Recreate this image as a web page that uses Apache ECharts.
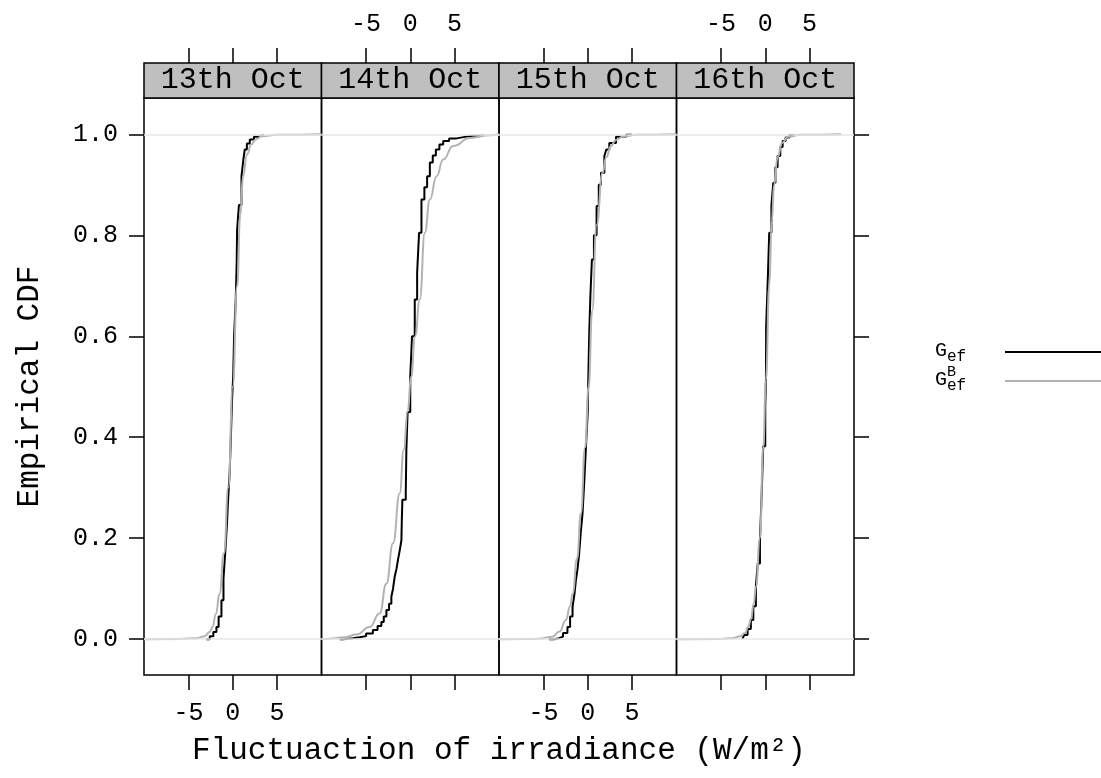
<!DOCTYPE html>
<html>
<head>
<meta charset="utf-8">
<script src="https://cdn.jsdelivr.net/npm/echarts@6/dist/echarts.min.js"></script>
<style>html,body{margin:0;padding:0;background:#fff}#chart{width:1101px;height:778px}</style>
</head>
<body>
<div id="chart"></div>
<script>
// ---------------- data ----------------
const panelLabels = ['13th Oct', '14th Oct', '15th Oct', '16th Oct'];
const xTicks = [-5, 0, 5];
const yTicks = [0, 0.2, 0.4, 0.6, 0.8, 1.0];
const xRange = [-10.05, 10.05];
const yRange = [-0.071, 1.072];
const xTitle = 'Fluctuaction of irradiance (W/m²)';
const yTitle = 'Empirical CDF';

// observed ECDF G_ef  [x, F]
const oct13Obs = [[-3.0,0.0],[-2.6,0.006],[-2.2,0.014],[-1.85,0.024],[-1.6,0.045],[-1.28,0.077],[-1.05,0.12],[-0.83,0.177],[-0.65,0.23],[-0.53,0.276],[-0.35,0.33],[-0.26,0.375],[-0.08,0.474],[0.05,0.52],[0.15,0.6],[0.34,0.673],[0.45,0.75],[0.49,0.81],[0.7,0.86],[0.99,0.917],[1.2,0.95],[1.36,0.97],[1.6,0.982],[1.93,0.99],[2.4,0.995],[2.9,0.998],[3.4,1.0]];
const oct14Obs = [[-8.0,0.0],[-7.6,0.002],[-6.5,0.004],[-5.74,0.006],[-5.0,0.011],[-4.23,0.018],[-3.7,0.026],[-3.27,0.034],[-3.0,0.045],[-2.7,0.058],[-2.4,0.07],[-2.14,0.084],[-1.95,0.1],[-1.76,0.124],[-1.55,0.14],[-1.39,0.157],[-1.2,0.175],[-1.0,0.196],[-0.95,0.24],[-0.89,0.276],[-0.51,0.289],[-0.44,0.375],[-0.3,0.45],[0.0,0.52],[0.2,0.6],[0.51,0.673],[0.78,0.726],[1.0,0.805],[1.27,0.871],[1.6,0.895],[1.91,0.917],[2.22,0.944],[2.55,0.958],[2.9,0.97],[3.3,0.98],[3.73,0.987],[4.4,0.992],[5.25,0.995],[6.2,0.997],[7.1,0.998],[8.2,1.0]];
const oct15Obs = [[-4.4,0.0],[-3.8,0.002],[-3.24,0.005],[-2.8,0.012],[-2.3,0.024],[-2.0,0.045],[-1.72,0.064],[-1.5,0.09],[-1.34,0.117],[-1.15,0.14],[-0.97,0.17],[-0.8,0.21],[-0.59,0.249],[-0.4,0.31],[-0.2,0.382],[0.0,0.45],[0.06,0.514],[0.17,0.607],[0.3,0.68],[0.47,0.752],[0.7,0.8],[1.0,0.858],[1.25,0.9],[1.5,0.924],[1.88,0.957],[2.1,0.97],[2.44,0.983],[3.2,0.995],[4.34,0.999],[5.0,1.0]];
const oct16Obs = [[-2.6,0.0],[-2.39,0.008],[-2.0,0.02],[-1.63,0.038],[-1.35,0.065],[-1.06,0.104],[-0.85,0.15],[-0.6,0.196],[-0.4,0.29],[-0.23,0.382],[0.0,0.46],[0.08,0.514],[0.1,0.62],[0.3,0.72],[0.45,0.805],[0.7,0.86],[0.91,0.904],[1.15,0.935],[1.4,0.957],[1.7,0.975],[1.97,0.987],[2.3,0.994],[2.73,0.998],[3.2,1.0]];

// bootstrap / model CDF G_ef^B  [x, F]
const oct13Boot = [[-10.05,0.0],[-6,0.0005],[-4,0.002],[-3.2,0.006],[-2.6,0.014],[-2.3,0.024],[-1.9,0.05],[-1.5,0.09],[-1.0,0.17],[-0.5,0.3],[0,0.5],[0.5,0.7],[0.85,0.84],[1.17,0.917],[1.6,0.96],[2.1,0.98],[2.6,0.99],[3.3,0.996],[5,0.999],[10.05,1.0]];
const oct14Boot = [[-10.05,0.0],[-9.1,0.001],[-7.5,0.004],[-6.1,0.009],[-4.6,0.024],[-3.47,0.051],[-2.7,0.11],[-1.95,0.19],[-1.19,0.289],[-0.74,0.375],[-0.3,0.45],[0.1,0.52],[0.55,0.6],[1.08,0.673],[1.65,0.805],[2.22,0.871],[2.98,0.917],[3.73,0.95],[4.86,0.977],[6.76,0.993],[9.0,0.998],[10.05,1.0]];
const oct15Boot = [[-10.05,0.0],[-7,0.0002],[-5.5,0.0006],[-4.0,0.005],[-3.2,0.015],[-2.47,0.038],[-2.0,0.065],[-1.72,0.09],[-1.2,0.16],[-0.78,0.249],[-0.3,0.38],[0.1,0.5],[0.5,0.65],[1.0,0.82],[1.68,0.924],[2.1,0.955],[2.63,0.977],[3.2,0.989],[3.95,0.995],[5.5,0.999],[10.05,1.0]];
const oct16Boot = [[-10.05,0.0],[-5,0.0005],[-3.7,0.002],[-2.8,0.006],[-2.3,0.012],[-1.9,0.025],[-1.63,0.04],[-1.3,0.07],[-1.06,0.104],[-0.6,0.2],[-0.23,0.38],[0.08,0.514],[0.45,0.7],[0.75,0.83],[1.0,0.9],[1.4,0.955],[1.9,0.983],[2.6,0.995],[4,0.999],[8.6,1.0]];

const obsSeries = [oct13Obs, oct14Obs, oct15Obs, oct16Obs];
const bootSeries = [oct13Boot, oct14Boot, oct15Boot, oct16Boot];

// ---------------- layout ----------------
const FONT = '"Liberation Mono", "Courier New", monospace';
const P_LEFT = 144, P_W = 177.5, P_TOP = 98, P_H = 577, STRIP_H = 35;
const TICK_LEN = 15;
const BLACK = '#000000', GREY = '#b3b3b3', REF = '#e6e6e6';

const grids = [], xAxes = [], yAxes = [], series = [], graphics = [];

panelLabels.forEach((lab, i) => {
  grids.push({left: P_LEFT + i * P_W, top: P_TOP, width: P_W, height: P_H,
    show: true, borderColor: BLACK, borderWidth: 1.5, backgroundColor: 'transparent'});
  const tickStyle = {show: true, customValues: xTicks, length: TICK_LEN, inside: false, lineStyle: {color: BLACK, width: 1.5}};
  const labStyle = (show) => ({show: show, customValues: xTicks, fontSize: 25, fontFamily: FONT, color: BLACK, margin: 26});
  xAxes.push({gridIndex: i, type: 'value', position: 'bottom', min: xRange[0], max: xRange[1],
    axisLine: {show: false, onZero: false}, axisTick: tickStyle, axisLabel: labStyle(i % 2 === 0), splitLine: {show: false}});
  xAxes.push({gridIndex: i, type: 'value', position: 'top', offset: STRIP_H, min: xRange[0], max: xRange[1],
    axisLine: {show: false, onZero: false}, axisTick: tickStyle, axisLabel: labStyle(i % 2 === 1), splitLine: {show: false}});
  const ya = {gridIndex: i, type: 'value', min: yRange[0], max: yRange[1], splitLine: {show: false}, axisLine: {show: false, onZero: false}};
  if (i === 0) {
    Object.assign(ya, {position: 'left',
      axisTick: {show: true, customValues: yTicks, length: TICK_LEN, lineStyle: {color: BLACK, width: 1.5}},
      axisLabel: {show: true, customValues: yTicks, formatter: v => v.toFixed(1), fontSize: 25, fontFamily: FONT, color: BLACK, margin: 26},
      name: yTitle, nameLocation: 'middle', nameGap: 99,
      nameTextStyle: {fontSize: 31, fontFamily: FONT, color: BLACK}});
  } else if (i === 3) {
    Object.assign(ya, {position: 'right',
      axisTick: {show: true, customValues: yTicks, length: TICK_LEN, lineStyle: {color: BLACK, width: 1.5}},
      axisLabel: {show: false}});
  } else {
    Object.assign(ya, {axisTick: {show: false}, axisLabel: {show: false}});
  }
  yAxes.push(ya);

  series.push({type: 'line', name: 'ref', xAxisIndex: 2 * i, yAxisIndex: i, data: [], z: 1, silent: true,
    markLine: {silent: true, symbol: ['none', 'none'], label: {show: false},
      lineStyle: {color: REF, type: 'solid', width: 1.5}, data: [{yAxis: 0}, {yAxis: 1}]}});
  series.push({type: 'line', name: 'Gef', xAxisIndex: 2 * i, yAxisIndex: i, data: obsSeries[i],
    step: 'end', symbol: 'none', showSymbol: false, z: 2, lineStyle: {color: BLACK, width: 2}});
  series.push({type: 'line', name: 'GefB', xAxisIndex: 2 * i, yAxisIndex: i, data: bootSeries[i],
    smooth: true, smoothMonotone: 'x', symbol: 'none', showSymbol: false, z: 3, lineStyle: {color: GREY, width: 2}});

  // strip
  graphics.push({type: 'rect', shape: {x: P_LEFT + i * P_W, y: P_TOP - STRIP_H, width: P_W, height: STRIP_H},
    style: {fill: '#bfbfbf', stroke: BLACK, lineWidth: 1.5}, z: 10});
  graphics.push({type: 'text', x: P_LEFT + i * P_W + P_W / 2, y: P_TOP - STRIP_H / 2,
    style: {text: lab, fontSize: 30, fontFamily: FONT, fill: BLACK, align: 'center', verticalAlign: 'middle'}, z: 11});
});

// x title
graphics.push({type: 'text', x: P_LEFT + 2 * P_W, y: 751,
  style: {text: xTitle, fontSize: 31, fontFamily: FONT, fill: BLACK, align: 'center', verticalAlign: 'middle'}});

// legend (key)
const legendItems = [
  {main: 'G', sub: 'ef', sup: '', color: BLACK, y: 352},
  {main: 'G', sub: 'ef', sup: 'B', color: GREY, y: 381}
];
legendItems.forEach(it => {
  graphics.push({type: 'text', x: 935, y: it.y - 1, style: {text: it.main, fontSize: 20, fontFamily: FONT, fill: BLACK, align: 'left', verticalAlign: 'middle'}});
  graphics.push({type: 'text', x: 947, y: it.y + 5, style: {text: it.sub, fontSize: 16, fontFamily: FONT, fill: BLACK, align: 'left', verticalAlign: 'middle'}});
  if (it.sup) graphics.push({type: 'text', x: 947, y: it.y - 9, style: {text: it.sup, fontSize: 15, fontFamily: FONT, fill: BLACK, align: 'left', verticalAlign: 'middle'}});
  graphics.push({type: 'line', shape: {x1: 1005, y1: it.y, x2: 1101, y2: it.y}, style: {stroke: it.color, lineWidth: 2}});
});

const chart = echarts.init(document.getElementById('chart'), null, {renderer: 'canvas'});
chart.setOption({
  animation: false,
  backgroundColor: '#ffffff',
  grid: grids, xAxis: xAxes, yAxis: yAxes, series: series, graphic: graphics
});
</script>
</body>
</html>
